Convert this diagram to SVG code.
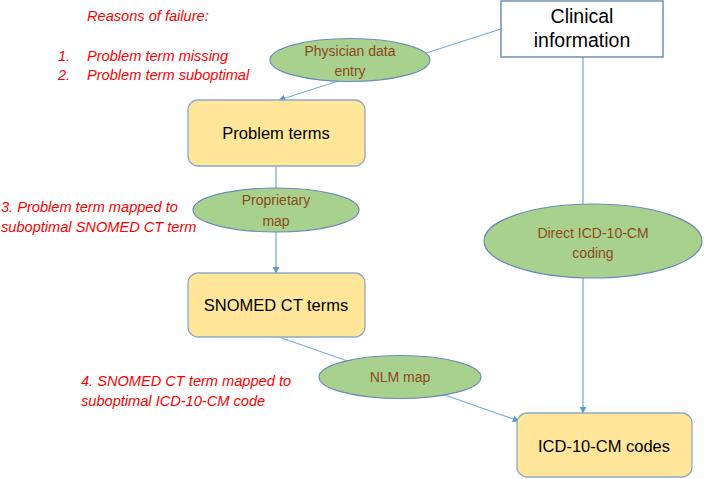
<svg xmlns="http://www.w3.org/2000/svg" width="704" height="479" viewBox="0 0 704 479">
<defs>
<marker id="arr" viewBox="0 0 10 10" refX="9" refY="5" markerWidth="7" markerHeight="7" markerUnits="userSpaceOnUse" orient="auto">
<path d="M0,0 L10,5 L0,10 z" fill="#5B9BD5"/>
</marker>
<style>
.ln{stroke:#7EAEDD;stroke-width:1.3;fill:none}
.box{fill:#FFE699;stroke:#8FAAC8;stroke-width:1.3}
.ell{fill:#A9D18E;stroke:#6A8CB8;stroke-width:1.2}
.et{font-family:"Liberation Sans",Arial,sans-serif;font-size:14px;fill:#8B4A1C;text-anchor:middle;dominant-baseline:central}
.bt{font-family:"Liberation Sans",Arial,sans-serif;font-size:16.5px;fill:#000;text-anchor:middle;dominant-baseline:central}
.rt{font-family:"Liberation Sans",Arial,sans-serif;font-size:14.6px;font-style:italic;fill:#FF0000;dominant-baseline:central}
</style>
</defs>
<rect width="704" height="479" fill="#fff"/>
<g id="connectors">
<line class="ln" x1="501" y1="29" x2="279" y2="100" marker-end="url(#arr)"/>
<line class="ln" x1="276" y1="166" x2="276" y2="273" marker-end="url(#arr)"/>
<line class="ln" x1="279" y1="337" x2="519" y2="421" marker-end="url(#arr)"/>
<line class="ln" x1="583" y1="57" x2="583" y2="413" marker-end="url(#arr)"/>
</g>
<g id="clinical">
<rect x="501" y="1" width="162" height="56" fill="#fff" stroke="#5B7FAA" stroke-width="1.3"/>
<text class="bt" x="582" y="16" style="font-size:19.5px">Clinical</text>
<text class="bt" x="582" y="40" style="font-size:19.5px">information</text>
</g>
<g id="physician">
<ellipse class="ell" cx="350" cy="60" rx="80" ry="21.5"/>
<text class="et" x="350" y="51">Physician data</text>
<text class="et" x="350" y="71">entry</text>
</g>
<g id="problem">
<rect class="box" x="188" y="100" width="177" height="66" rx="10"/>
<text class="bt" x="276" y="133">Problem terms</text>
</g>
<g id="proprietary">
<ellipse class="ell" cx="276" cy="210" rx="83" ry="22"/>
<text class="et" x="276" y="200">Proprietary</text>
<text class="et" x="276" y="221">map</text>
</g>
<g id="snomed">
<rect class="box" x="188" y="273" width="177" height="64" rx="10"/>
<text class="bt" x="276" y="305">SNOMED CT terms</text>
</g>
<g id="direct">
<ellipse class="ell" cx="593" cy="241" rx="109" ry="37"/>
<text class="et" x="593" y="233">Direct ICD-10-CM</text>
<text class="et" x="593" y="253">coding</text>
</g>
<g id="nlm">
<ellipse class="ell" cx="400" cy="377" rx="81" ry="21.5"/>
<text class="et" x="400" y="377">NLM map</text>
</g>
<g id="icd">
<rect class="box" x="517" y="413" width="175" height="64" rx="10"/>
<text class="bt" x="604" y="446">ICD-10-CM codes</text>
</g>
<g id="notes">
<text class="rt" x="87" y="16">Reasons of failure:</text>
<text class="rt" x="58" y="56">1.</text>
<text class="rt" x="87" y="56">Problem term missing</text>
<text class="rt" x="58" y="75">2.</text>
<text class="rt" x="87" y="75">Problem term suboptimal</text>
<text class="rt" x="1" y="207">3. Problem term mapped to</text>
<text class="rt" x="1" y="227">suboptimal SNOMED CT term</text>
<text class="rt" x="81" y="381">4. SNOMED CT term mapped to</text>
<text class="rt" x="81" y="401">suboptimal ICD-10-CM code</text>
</g>
</svg>
